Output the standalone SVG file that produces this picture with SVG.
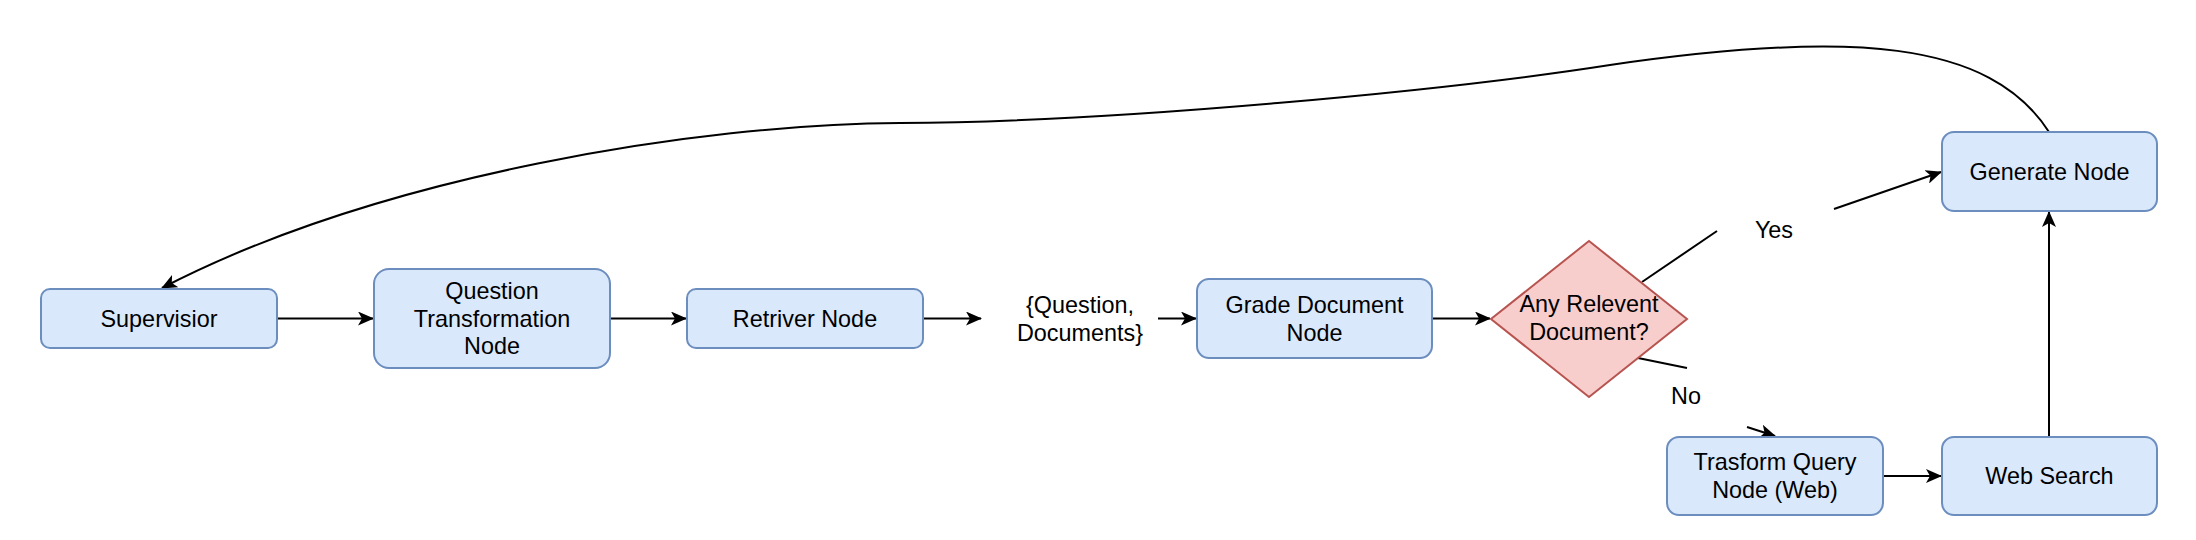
<svg xmlns="http://www.w3.org/2000/svg" width="2196" height="540" viewBox="0 0 2196 540">
<style>
.box{fill:#dae8fc;stroke:#6c8ebf;stroke-width:2}
.dia{fill:#f8cecc;stroke:#b85450;stroke-width:2}
.t{font-family:"Liberation Sans",Arial,Helvetica,sans-serif;font-size:23.4px;fill:#000;text-anchor:middle}
.e{fill:none;stroke:#000;stroke-width:2}
</style>
<defs>
<marker id="arr" markerUnits="userSpaceOnUse" viewBox="0 0 16 14" markerWidth="16" markerHeight="14" refX="15" refY="7" orient="auto">
<path d="M0,0 L16,7 L0,14 L4,7 Z" fill="#000"/>
</marker>
</defs>
<rect width="2196" height="540" fill="#fff"/>
<g id="connectors">
<path class="e" marker-end="url(#arr)" d="M2049 132 C1990 40, 1850 30, 1610 65 C1450 90, 1120 122, 900 123 C700 124, 380 175, 162 288"/>
<line class="e" marker-end="url(#arr)" x1="277" y1="318.5" x2="373" y2="318.5"/>
<line class="e" marker-end="url(#arr)" x1="610" y1="318.5" x2="686" y2="318.5"/>
<line class="e" marker-end="url(#arr)" x1="923" y1="318.5" x2="981" y2="318.5"/>
<line class="e" marker-end="url(#arr)" x1="1158" y1="318.5" x2="1196" y2="318.5"/>
<line class="e" marker-end="url(#arr)" x1="1432" y1="318.5" x2="1490" y2="318.5"/>
<line class="e" x1="1642" y1="282" x2="1717" y2="231"/>
<line class="e" marker-end="url(#arr)" x1="1834" y1="209" x2="1941" y2="172"/>
<line class="e" x1="1638" y1="358" x2="1687" y2="368"/>
<line class="e" marker-end="url(#arr)" x1="1747" y1="427" x2="1775" y2="436"/>
<line class="e" marker-end="url(#arr)" x1="1883" y1="476" x2="1941" y2="476"/>
<line class="e" marker-end="url(#arr)" x1="2049" y1="437" x2="2049" y2="212"/>
<text class="t" x="1774" y="238">Yes</text>
<text class="t" x="1686" y="404">No</text>
</g>
<g id="supervisior">
<rect class="box" x="41" y="289" width="236" height="59" rx="9"/>
<text class="t" x="159" y="327">Supervisior</text>
</g>
<g id="question-transformation">
<rect class="box" x="374" y="269" width="236" height="99" rx="15"/>
<text class="t" x="492" y="299">Question</text>
<text class="t" x="492" y="327">Transformation</text>
<text class="t" x="492" y="354">Node</text>
</g>
<g id="retriver">
<rect class="box" x="687" y="289" width="236" height="59" rx="9"/>
<text class="t" x="805" y="327">Retriver Node</text>
</g>
<g id="question-documents">
<text class="t" x="1080" y="313">{Question,</text>
<text class="t" x="1080" y="341">Documents}</text>
</g>
<g id="grade-document">
<rect class="box" x="1197" y="279" width="235" height="79" rx="12"/>
<text class="t" x="1314.5" y="313">Grade Document</text>
<text class="t" x="1314.5" y="341">Node</text>
</g>
<g id="any-relevent">
<polygon class="dia" points="1589,241 1687,319 1589,397 1491,319"/>
<text class="t" x="1589" y="312">Any Relevent</text>
<text class="t" x="1589" y="340">Document?</text>
</g>
<g id="generate">
<rect class="box" x="1942" y="132" width="215" height="79" rx="12"/>
<text class="t" x="2049.5" y="180">Generate Node</text>
</g>
<g id="trasform-query">
<rect class="box" x="1667" y="437" width="216" height="78" rx="12"/>
<text class="t" x="1775" y="470">Trasform Query</text>
<text class="t" x="1775" y="498">Node (Web)</text>
</g>
<g id="web-search">
<rect class="box" x="1942" y="437" width="215" height="78" rx="12"/>
<text class="t" x="2049.5" y="484">Web Search</text>
</g>
</svg>
